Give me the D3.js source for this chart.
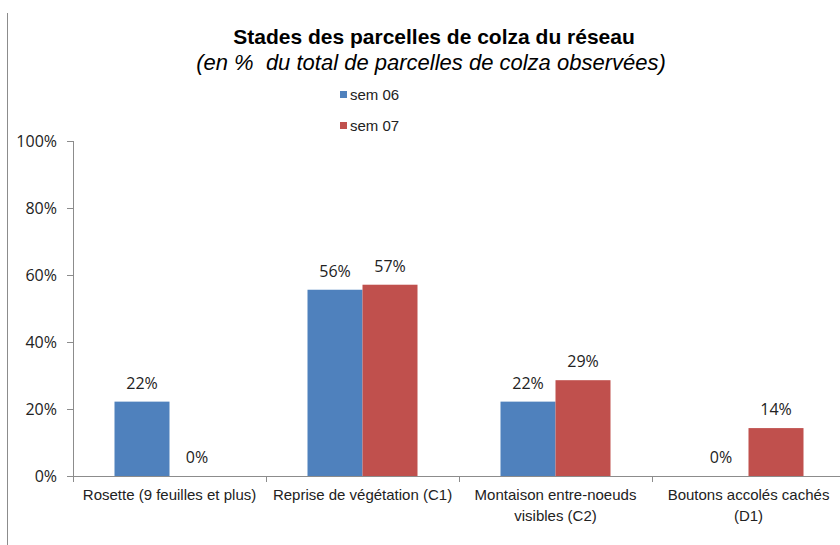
<!DOCTYPE html>
<html>
<head>
<meta charset="utf-8">
<script src="https://cdn.jsdelivr.net/npm/d3@7"></script>
<style>
  body { margin: 0; background: #fff; }
  svg { display: block; }
</style>
</head>
<body>
<script>
// data
var categories = [
  ["Rosette (9 feuilles et plus)"],
  ["Reprise de végétation (C1)"],
  ["Montaison entre-noeuds", "visibles (C2)"],
  ["Boutons accolés cachés", "(D1)"]
];
var seriesNames = ["sem 06", "sem 07"];
var sem06 = [0.222, 0.556, 0.222, 0];
var sem07 = [0, 0.571, 0.286, 0.143];
var yTicks = [0, 0.2, 0.4, 0.6, 0.8, 1];
var colors = ["#4F81BD", "#C0504D"];

var W = 840, H = 545;
var margin = {top: 141, left: 73, bottom: 69, right: -5};
var width = W - margin.left - margin.right,
    height = H - margin.top - margin.bottom;

var narrow = "'Liberation Sans Narrow', 'Liberation Sans', Arial, sans-serif";
var body = "'Open Sans', 'Liberation Sans', sans-serif";

var svg = d3.select("body").append("svg")
    .attr("width", W)
    .attr("height", H);

// left border of the chart frame
svg.append("line")
    .attr("x1", 7.5).attr("x2", 7.5)
    .attr("y1", 13).attr("y2", H)
    .attr("stroke", "#8c8c8c").attr("stroke-width", 1);

// titles
svg.append("text")
    .attr("x", 434).attr("y", 44)
    .attr("text-anchor", "middle")
    .style("font-family", narrow)
    .style("font-weight", "bold")
    .style("font-size", "21px")
    .text("Stades des parcelles de colza du réseau");

svg.append("text")
    .attr("x", 431).attr("y", 70)
    .attr("text-anchor", "middle")
    .style("font-family", narrow)
    .style("font-style", "italic")
    .style("font-size", "22px")
    .attr("xml:space", "preserve")
    .text("(en %  du total de parcelles de colza observées)");

// legend
var legend = svg.selectAll(".legend")
    .data(seriesNames)
    .enter().append("g")
    .attr("class", "legend")
    .attr("transform", function (d, i) {
        return "translate(340," + (95 + i * 31) + ")";
    });
legend.append("rect")
    .attr("x", 0).attr("y", -4)
    .attr("width", 7).attr("height", 7)
    .attr("fill", function (d, i) { return colors[i]; });
legend.append("text")
    .attr("x", 10).attr("y", 5)
    .style("font-family", narrow)
    .style("font-size", "15px")
    .attr("fill", "#222")
    .text(function (d) { return d; });

var g = svg.append("g")
    .attr("transform", "translate(" + margin.left + "," + margin.top + ")");

var x0 = d3.scaleBand()
    .domain(d3.range(categories.length))
    .range([0, width]);

var x1 = d3.scaleBand()
    .domain(d3.range(seriesNames.length))
    .range([0, 110])
    .padding(0);

var y = d3.scaleLinear()
    .domain([0, 1])
    .range([height, 0]);

// y axis
var yAxis = g.append("g")
    .call(d3.axisLeft(y).tickValues(yTicks).tickFormat(d3.format(".0%")).tickSize(6).tickPadding(10));
yAxis.selectAll("line").attr("stroke", "#8c8c8c");
yAxis.select(".domain").attr("stroke", "#8c8c8c").attr("d", "M0.5," + y(1) + "V" + y(0));
yAxis.selectAll("text")
    .style("font-family", body)
    .style("font-size", "16px")
    .attr("fill", "#222");

// bars
var data = categories.map(function (c, i) { return [sem06[i], sem07[i]]; });

var groups = g.selectAll(".grp")
    .data(data)
    .enter().append("g")
    .attr("class", "grp")
    .attr("transform", function (d, i) {
        return "translate(" + (x0(i) + (x0.bandwidth() - 110) / 2) + ",0)";
    });

groups.selectAll("rect")
    .data(function (d) { return d; })
    .enter().append("rect")
    .attr("x", function (d, j) { return x1(j); })
    .attr("width", x1.bandwidth())
    .attr("y", function (d) { return y(d); })
    .attr("height", function (d) { return height - y(d); })
    .attr("fill", function (d, j) { return colors[j]; });

groups.selectAll(".val")
    .data(function (d) { return d; })
    .enter().append("text")
    .attr("class", "val")
    .attr("x", function (d, j) { return x1(j) + x1.bandwidth() / 2; })
    .attr("y", function (d) { return y(d) - 13; })
    .attr("text-anchor", "middle")
    .style("font-family", body)
    .style("font-size", "16px")
    .attr("fill", "#222")
    .text(function (d) { return d3.format(".0%")(d); });

// x axis
var xAxis = g.append("g")
    .attr("transform", "translate(0," + height + ")");
xAxis.append("line")
    .attr("x1", 0).attr("x2", width)
    .attr("y1", 0.5).attr("y2", 0.5)
    .attr("stroke", "#8c8c8c");
xAxis.selectAll(".tk")
    .data(d3.range(categories.length))
    .enter().append("line")
    .attr("x1", function (i) { return Math.round(x0(i)) + 0.5; })
    .attr("x2", function (i) { return Math.round(x0(i)) + 0.5; })
    .attr("y1", 0).attr("y2", 6)
    .attr("stroke", "#8c8c8c");

var lab = xAxis.selectAll(".lab")
    .data(categories)
    .enter().append("text")
    .attr("class", "lab")
    .attr("text-anchor", "middle")
    .attr("transform", function (d, i) {
        return "translate(" + (x0(i) + x0.bandwidth() / 2) + ",24)";
    })
    .style("font-family", narrow)
    .style("font-size", "15px")
    .attr("fill", "#222");
lab.selectAll("tspan")
    .data(function (d) { return d; })
    .enter().append("tspan")
    .attr("x", 0)
    .attr("dy", function (d, k) { return k ? 21 : 0; })
    .text(function (d) { return d; });
</script>
</body>
</html>
